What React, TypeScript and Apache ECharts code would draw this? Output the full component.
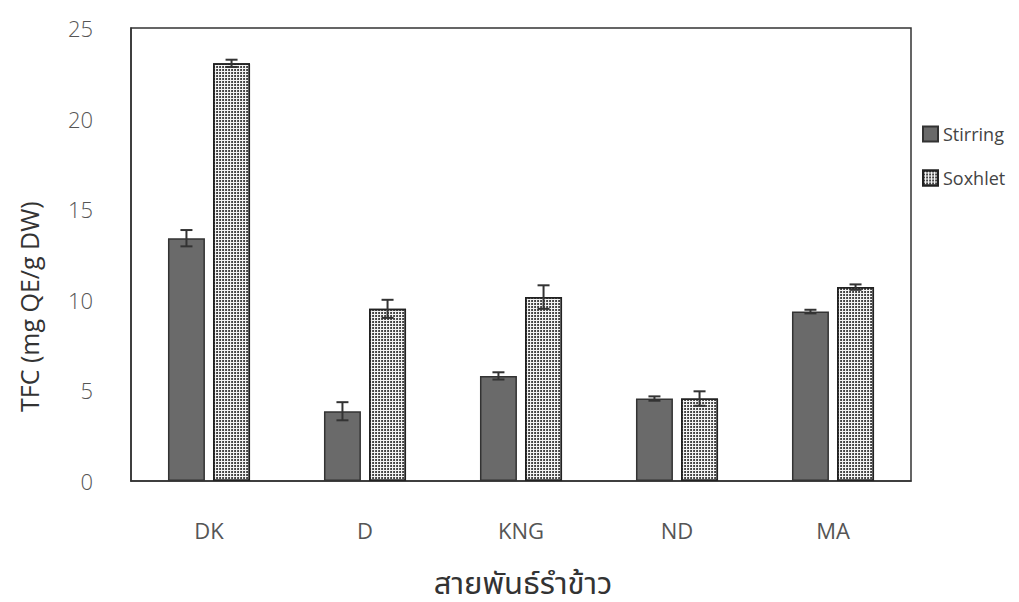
import React, { useEffect, useRef } from "react";
import * as echarts from "echarts";

// Total flavonoid content by rice bran variety and extraction method
const categories = ["DK", "D", "KNG", "ND", "MA"];
const stirring = [13.4, 3.85, 5.8, 4.55, 9.35];
const stirringErr = [0.45, 0.5, 0.2, 0.12, 0.1];
const soxhlet = [23.05, 9.5, 10.15, 4.55, 10.7];
const soxhletErr = [0.2, 0.5, 0.65, 0.4, 0.15];
const yTicks = [0, 5, 10, 15, 20, 25];
const xTitle = "สายพันธุ์รำข้าว";
const yTitle = "TFC (mg QE/g DW)";

const FONT = '"Open Sans", "Noto Sans Thai", "Noto Sans", sans-serif';
const BAR_RATIO = 0.237;
const GAP_RATIO = 0.22;

function errorSeries(values: number[], errs: number[], side: number) {
  return {
    type: "custom",
    silent: true,
    z: 10,
    data: values.map((v, i) => [i, v - errs[i], v + errs[i]]),
    renderItem: (params: any, api: any) => {
      const idx = api.value(0);
      const band = api.size([1, 0])[0];
      const bw = band * BAR_RATIO;
      const offset = side * (bw + bw * GAP_RATIO) / 2;
      const lo = api.coord([idx, api.value(1)]);
      const hi = api.coord([idx, api.value(2)]);
      const x = lo[0] + offset;
      const cap = 6;
      const style = { stroke: "#333", lineWidth: 2 };
      return {
        type: "group",
        children: [
          { type: "line", shape: { x1: x, y1: lo[1], x2: x, y2: hi[1] }, style },
          { type: "line", shape: { x1: x - cap, y1: hi[1], x2: x + cap, y2: hi[1] }, style },
          { type: "line", shape: { x1: x - cap, y1: lo[1], x2: x + cap, y2: lo[1] }, style },
        ],
      };
    },
  };
}

export default function App() {
  const ref = useRef<HTMLDivElement>(null);
  useEffect(() => {
    const chart = echarts.init(ref.current!, null, { renderer: "svg" });
    chart.setOption({
      animation: false,
      backgroundColor: "#fff",
      grid: {
        left: 131,
        right: 108,
        top: 28,
        bottom: 121,
        show: true,
        borderColor: "#333",
        borderWidth: 1.5,
      },
      legend: {
        orient: "vertical",
        left: 917,
        top: 120,
        icon: "rect",
        itemWidth: 15,
        itemHeight: 15,
        itemGap: 26,
        textStyle: { fontFamily: FONT, fontSize: 18, color: "#444" },
        data: ["Stirring", "Soxhlet"],
      },
      graphic: [
        {
          type: "text",
          x: 523,
          y: 582,
          style: {
            text: xTitle,
            font: `31px ${FONT}`,
            fill: "#333",
            align: "center",
            verticalAlign: "middle",
          },
        },
        {
          type: "text",
          x: 16,
          y: 412,
          rotation: Math.PI / 2,
          style: { text: yTitle, font: `25px ${FONT}`, fill: "#333", align: "left", verticalAlign: "top" },
        },
      ],
      xAxis: {
        type: "category",
        data: categories,
        axisLine: { lineStyle: { color: "#333", width: 1.5 } },
        axisTick: { show: false },
        axisLabel: { margin: 38, fontFamily: FONT, fontSize: 22, color: "#555" },
      },
      yAxis: {
        type: "value",
        min: yTicks[0],
        max: yTicks[yTicks.length - 1],
        interval: 5,
        splitLine: { show: false },
        axisLine: { show: true, lineStyle: { color: "#333", width: 1.5 } },
        axisTick: { show: false },
        axisLabel: { margin: 38, fontFamily: FONT, fontSize: 22, color: "#555", fontWeight: 300 },
      },
      series: [
        {
          name: "Stirring",
          type: "bar",
          data: stirring,
          barWidth: `${BAR_RATIO * 100}%`,
          barGap: `${GAP_RATIO * 100}%`,
          itemStyle: { color: "#6a6a6a", borderColor: "#333", borderWidth: 1.5 },
        },
        {
          name: "Soxhlet",
          type: "bar",
          data: soxhlet,
          barWidth: `${BAR_RATIO * 100}%`,
          itemStyle: {
            color: "#f4f4f4",
            borderColor: "#222",
            borderWidth: 1.5,
            decal: {
              symbol: "circle",
              symbolSize: 0.9,
              dashArrayX: [2, 1],
              dashArrayY: [2, 1],
              color: "#111",
              backgroundColor: "#f4f4f4",
            },
          },
        },
        errorSeries(stirring, stirringErr, -1),
        errorSeries(soxhlet, soxhletErr, 1),
      ],
    });
    return () => chart.dispose();
  }, []);
  return <div ref={ref} style={{ width: 1019, height: 602, margin: -8 }} />;
}
